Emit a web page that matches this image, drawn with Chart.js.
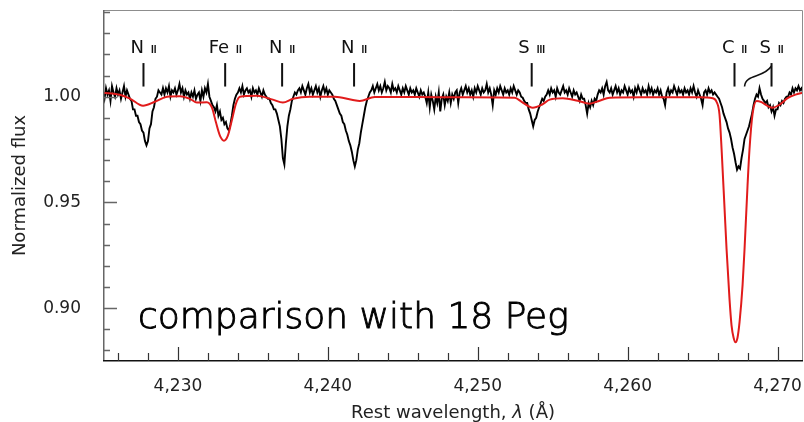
<!DOCTYPE html>
<html>
<head>
<meta charset="utf-8">
<script src="https://cdn.jsdelivr.net/npm/chart.js@4.4.1/dist/chart.umd.min.js"></script>
<style>
  html, body { margin: 0; padding: 0; background: #fff; }
</style>
</head>
<body>
<canvas id="chart" width="804" height="422"></canvas>
<script>
// observed spectrum, sampled every 0.1 A from 4225.0
const obsStart = 4225.0;
const obsStep = 0.1;
const obsFlux = [
  // 4225.0 continuum
  1.002, 0.999, 1.004, 1.001, 1.003, 0.998, 1.005, 1.002, 1.000, 1.004, 1.001, 1.003, 0.999, 1.002, 1.005, 1.000, 1.003, 1.001, 0.999,
  // N II 4227.7
  0.998, 0.994, 0.994, 0.991, 0.991, 0.988, 0.987, 0.984, 0.983, 0.979, 0.977, 0.979, 0.985, 0.987, 0.993, 0.995, 0.999, 1.000, 1.003, 1.002, 1.001, 1.004,
  1.001, 1.004, 1.002, 1.005, 1.000, 1.003, 1.002, 1.004, 1.001, 1.003, 1.006, 1.002, 1.004, 1.000, 1.003, 1.001, 1.002, 0.999, 1.002, 1.000,
  1.003, 0.999, 1.001, 1.002, 0.998, 1.003, 1.000, 1.004, 1.002, 1.006,
  // Fe II 4233.2
  1.000, 0.998, 0.996, 0.995, 0.993, 0.996, 0.991, 0.993, 0.989, 0.990, 0.987, 0.988, 0.985, 0.984, 0.987, 0.991, 0.996, 0.999, 1.001, 1.002,
  1.004, 1.002, 1.005, 1.001, 1.003, 1.004, 1.002, 1.003, 1.000, 1.004, 1.002, 1.003, 1.001, 1.004, 1.002, 1.000, 1.003, 1.001, 1.000, 0.999,
  // N II 4236.9
  0.999, 0.997, 0.996, 0.994, 0.994, 0.992, 0.989, 0.986, 0.980, 0.971, 0.968, 0.978, 0.986, 0.991, 0.994, 0.998, 1.000, 1.002, 1.001, 1.003,
  1.004, 1.002, 1.005, 1.003, 1.001, 1.004, 1.006, 1.002, 1.004, 1.001, 1.003, 1.005, 1.002, 1.004, 1.000, 1.003, 1.005, 1.002, 1.004, 1.001,
  1.003, 1.002, 1.001, 0.999,
  // N II 4241.8
  0.998, 0.996, 0.994, 0.992, 0.991, 0.988, 0.987, 0.984, 0.982, 0.979, 0.977, 0.974, 0.970, 0.967, 0.970, 0.975, 0.978, 0.983, 0.987, 0.991,
  0.995, 0.998, 1.000, 1.002,
  1.003, 1.005, 1.002, 1.004, 1.006, 1.003, 1.005, 1.002, 1.004, 1.007, 1.003, 1.005, 1.004, 1.002, 1.006, 1.003, 1.004, 1.002, 1.005, 1.003,
  1.001, 1.004, 1.002, 1.005, 1.003, 1.001, 1.004, 1.002, 1.003, 1.001, 1.004, 1.002, 1.000, 1.003, 1.001, 1.002,
  1.000, 0.997, 1.002, 0.995, 1.001, 0.998, 0.994, 1.000, 0.997, 1.002, 0.993, 0.999, 1.001, 0.996, 1.000, 0.998, 1.002, 0.997, 1.001, 0.999,
  1.002,
  1.003, 0.997, 1.002, 1.004, 1.001, 1.003, 1.005, 1.002, 1.004, 1.001, 1.003, 1.000, 1.004, 1.002, 1.005, 1.003, 1.001, 1.004, 1.002, 1.003,
  1.006, 1.002, 1.004, 1.001, 0.996, 1.003, 1.001, 1.004, 1.002, 1.005, 1.003, 1.001, 1.004, 1.002, 1.003, 1.001, 1.004, 1.002, 1.005, 1.003,
  1.001, 1.003, 1.002, 1.000,
  // S III 4253.6
  0.9995, 0.998, 0.997, 0.997, 0.994, 0.992, 0.989, 0.986, 0.989, 0.990, 0.993, 0.995, 0.997, 0.999, 0.998, 1.000, 1.001,
  1.003, 1.001, 1.004, 1.002, 1.003, 1.000, 1.004, 1.002, 1.001, 1.003, 1.005, 1.002, 1.003, 1.001, 1.004, 1.002, 1.000, 1.003, 1.001, 1.002,
  1.000, 0.998, 1.001, 0.999,
  0.999, 0.996, 0.992, 0.997, 0.995, 0.998, 0.996, 0.999, 0.998,
  1.001, 1.003, 1.002, 1.004, 1.001, 1.005, 1.007, 1.003, 1.002, 1.004,
  1.001, 1.003, 1.005, 1.002, 1.004, 1.001, 1.003, 1.002, 1.005, 1.003,
  1.001, 1.004, 1.002, 1.003, 1.000, 1.004, 1.002, 1.005, 1.003, 1.001,
  1.004, 1.002, 1.003, 1.001, 1.005, 1.002, 1.004, 1.001, 1.003, 1.002,
  1.004, 1.001, 1.003, 1.000, 0.999, 0.996, 1.002, 1.004, 1.001, 1.003,
  1.002, 1.005, 1.003, 1.001, 1.004, 1.002, 1.003, 1.001, 1.004, 1.002,
  1.003, 1.001, 1.004, 1.002, 1.005, 1.002, 1.000, 1.003, 1.001, 0.999,
  0.996, 1.002, 1.003, 1.001, 1.004, 1.002, 1.003, 1.001, 1.002, 1.001,
  // C II 4267.1
  1.000, 0.999, 0.997, 0.995, 0.992, 0.990, 0.988, 0.985, 0.983, 0.980, 0.976, 0.973, 0.969, 0.9655, 0.967, 0.966, 0.971, 0.975, 0.980, 0.982,
  0.984, 0.986, 0.989, 0.992, 0.996, 0.999, 1.001, 1.000, 1.004, 1.001, 0.999, 0.998,
  // S II
  0.997, 0.998, 0.995, 0.996, 0.993, 0.995, 0.991, 0.994, 0.994, 0.997, 0.996, 0.998, 0.997, 0.999, 1.000, 1.000, 1.002, 1.001, 1.004, 1.002,
  1.004, 1.003, 1.005, 1.003, 1.004, 1.002
];

// comparison star model (18 Peg)
const modelWave = [
  4225.0, 4226.13, 4226.8, 4227.67, 4228.47, 4229.27, 4230.13, 4230.8, 4231.27, 4231.93,
  4232.27, 4232.53, 4232.8, 4233.07, 4233.33, 4233.6, 4233.87, 4234.13, 4235.27, 4236.33,
  4237.0, 4237.67, 4238.8, 4240.47, 4241.6, 4242.13, 4243.13, 4246.0, 4249.0, 4252.47,
  4252.93, 4253.67, 4254.27, 4254.8, 4255.67, 4256.67, 4257.47, 4258.13, 4258.8, 4261.0,
  4264.8, 4265.67, 4265.93, 4266.13, 4266.27, 4266.47, 4266.6, 4266.8, 4266.93, 4267.07,
  4267.2, 4267.33, 4267.47, 4267.67, 4267.8, 4268.0, 4268.13, 4268.33, 4268.6, 4268.93,
  4269.33, 4269.67, 4270.13, 4270.67, 4271.2, 4271.7
];
const modelFlux = [
  1.0019, 1.0009, 0.9991, 0.9957, 0.9976, 1.0000, 1.0002, 0.9990, 0.9972, 0.9974,
  0.9948, 0.9880, 0.9816, 0.9792, 0.9816, 0.9890, 0.9967, 1.0000, 1.0005, 0.9986,
  0.9972, 0.9990, 1.0000, 1.0000, 0.9986, 0.9980, 0.9998, 0.9998, 0.9997, 0.9995,
  0.9976, 0.9948, 0.9962, 0.9986, 0.9993, 0.9981, 0.9967, 0.9981, 0.9995, 0.9997,
  0.9997, 0.9993, 0.9976, 0.9915, 0.9750, 0.9466, 0.9280, 0.9040, 0.8920, 0.8860,
  0.8839, 0.8860, 0.8936, 0.9110, 0.9280, 0.9580, 0.9750, 0.9915, 0.9980, 0.9974,
  0.9957, 0.9948, 0.9962, 0.9993, 1.0010, 1.0019
];

// line identifications
const lineWave = [4227.7, 4233.15, 4236.95, 4241.75, 4253.6, 4267.13, 4269.6];
const lineIon = ['N', 'Fe', 'N', 'N', 'S', 'C', 'S'];
const lineStage = ['II', 'II', 'II', 'II', 'III', 'II', 'II'];
const sIIBlendWave = 4267.8;

const xTickLabels = [4230, 4240, 4250, 4260, 4270];
const yTickLabels = [0.90, 0.95, 1.00];

const obsData = obsFlux.map((f, i) => ({ x: +(obsStart + i * obsStep).toFixed(2), y: f }));
const modelData = modelWave.map((w, i) => ({ x: w, y: modelFlux[i] }));

const isMajor = (list, v) => list.some(t => Math.abs(t - v) < 1e-6);

const decor = {
  id: 'decor',
  afterDraw(chart) {
    const { ctx, chartArea: a, scales: { x, y } } = chart;
    ctx.save();

    // frame top / right
    ctx.strokeStyle = '#8d8d8d';
    ctx.lineWidth = 1;
    ctx.beginPath();
    ctx.moveTo(a.left, a.top + 0.5);
    ctx.lineTo(a.right - 0.5, a.top + 0.5);
    ctx.lineTo(a.right - 0.5, a.bottom);
    ctx.stroke();

    // left axis + ticks
    ctx.strokeStyle = '#666';
    ctx.lineWidth = 1.5;
    ctx.beginPath();
    ctx.moveTo(a.left + 0.75, a.top);
    ctx.lineTo(a.left + 0.75, a.bottom);
    y.ticks.forEach(t => {
      const py = Math.round(y.getPixelForValue(t.value)) + 0.5;
      const len = isMajor(yTickLabels, t.value) ? 14 : 7;
      ctx.moveTo(a.left, py);
      ctx.lineTo(a.left + len, py);
    });
    ctx.stroke();

    // bottom axis + ticks
    ctx.strokeStyle = '#111';
    ctx.beginPath();
    ctx.moveTo(a.left, a.bottom - 0.25);
    ctx.lineTo(a.right, a.bottom - 0.25);
    ctx.stroke();
    ctx.strokeStyle = '#333';
    ctx.lineWidth = 1.2;
    ctx.beginPath();
    x.ticks.forEach(t => {
      const px = Math.round(x.getPixelForValue(t.value)) + 0.5;
      const len = isMajor(xTickLabels, t.value) ? 14 : 8;
      ctx.moveTo(px, a.bottom);
      ctx.lineTo(px, a.bottom - len);
    });
    ctx.stroke();

    // line identifications
    const baseY = y.getPixelForValue(1.0207);
    const markTop = y.getPixelForValue(1.0159);
    const markBot = y.getPixelForValue(1.0048);
    ctx.fillStyle = '#111';
    ctx.strokeStyle = '#111';
    ctx.lineWidth = 2;
    ctx.textBaseline = 'alphabetic';
    ctx.textAlign = 'left';
    lineWave.forEach((w, i) => {
      const px = x.getPixelForValue(w);
      ctx.font = '18px "DejaVu Sans"';
      const w1 = ctx.measureText(lineIon[i]).width;
      ctx.font = 'bold 10px "Liberation Sans"';
      const w2 = ctx.measureText(lineStage[i]).width;
      const gap = 7;
      const x0 = px - (w1 + gap + w2) / 2;
      ctx.font = '18px "DejaVu Sans"';
      ctx.fillText(lineIon[i], x0, baseY);
      ctx.font = 'bold 10px "Liberation Sans"';
      ctx.fillText(lineStage[i], x0 + w1 + gap, baseY);
      ctx.beginPath();
      ctx.moveTo(px, markTop);
      ctx.lineTo(px, markBot);
      ctx.stroke();
    });
    // S II bracket to the blend
    const bx = x.getPixelForValue(sIIBlendWave);
    const sx = x.getPixelForValue(lineWave[6]);
    ctx.lineWidth = 1.6;
    ctx.beginPath();
    ctx.moveTo(bx, markBot);
    ctx.bezierCurveTo(bx + 1, markBot - 13, sx - 8, markBot - 8, sx, y.getPixelForValue(1.0145));
    ctx.stroke();

    // annotation
    ctx.font = '200 36px "DejaVu Sans"';
    ctx.fillStyle = '#000';
    ctx.strokeStyle = '#000';
    ctx.lineWidth = 0.9;
    const ax = x.getPixelForValue(4227.33), ay = y.getPixelForValue(0.8907);
    ctx.fillText('comparison with 18 Peg', ax, ay);
    ctx.strokeText('comparison with 18 Peg', ax, ay);

    // x title with italic lambda
    const parts = [['Rest wavelength, ', '18px "DejaVu Sans"'], ['λ', 'italic 18px "DejaVu Sans"'], [' (Å)', '18px "DejaVu Sans"']];
    let total = 0;
    parts.forEach(p => { ctx.font = p[1]; total += ctx.measureText(p[0]).width; });
    let tx = (a.left + a.right) / 2 - total / 2;
    ctx.fillStyle = '#222';
    parts.forEach(p => { ctx.font = p[1]; ctx.fillText(p[0], tx, 418); tx += ctx.measureText(p[0]).width; });

    ctx.restore();
  }
};

new Chart(document.getElementById('chart'), {
  type: 'line',
  data: {
    datasets: [
      {
        label: 'model',
        data: modelData,
        borderColor: '#e11b1b',
        borderWidth: 2,
        pointRadius: 0,
        cubicInterpolationMode: 'monotone',
        order: 1
      },
      {
        label: 'observed',
        data: obsData,
        borderColor: '#000',
        borderWidth: 1.9,
        pointRadius: 0,
        tension: 0,
        order: 2
      }
    ]
  },
  options: {
    responsive: false,
    animation: false,
    layout: { padding: { top: 10, right: 1, left: 0, bottom: 0 } },
    plugins: { legend: { display: false }, tooltip: { enabled: false } },
    scales: {
      x: {
        type: 'linear',
        min: 4225,
        max: 4271.7,
        grid: { display: false },
        border: { display: false },
        afterFit(scale) {
          scale.height = 61;
          scale.paddingLeft = 0;
          scale.paddingRight = 0;
        },
        ticks: {
          stepSize: 2,
          autoSkip: false,
          maxRotation: 0,
          includeBounds: false,
          padding: 7,
          color: '#222',
          font: { family: 'DejaVu Sans', size: 17 },
          callback: v => isMajor(xTickLabels, v) ? v.toLocaleString('en-US') : ''
        }
      },
      y: {
        min: 0.875,
        max: 1.041,
        grid: { display: false },
        border: { display: false },
        afterFit(scale) {
          scale.width = 103;
          scale.paddingTop = 0;
          scale.paddingBottom = 0;
        },
        title: {
          display: true,
          text: 'Normalized flux',
          color: '#222',
          padding: { top: 10, bottom: 0 },
          font: { family: 'DejaVu Sans', size: 18 }
        },
        ticks: {
          stepSize: 0.01,
          autoSkip: false,
          includeBounds: false,
          padding: 14,
          color: '#222',
          font: { family: 'DejaVu Sans', size: 17 },
          callback: v => isMajor(yTickLabels, v) ? v.toFixed(2) : ''
        }
      }
    }
  },
  plugins: [decor]
});
</script>
</body>
</html>
